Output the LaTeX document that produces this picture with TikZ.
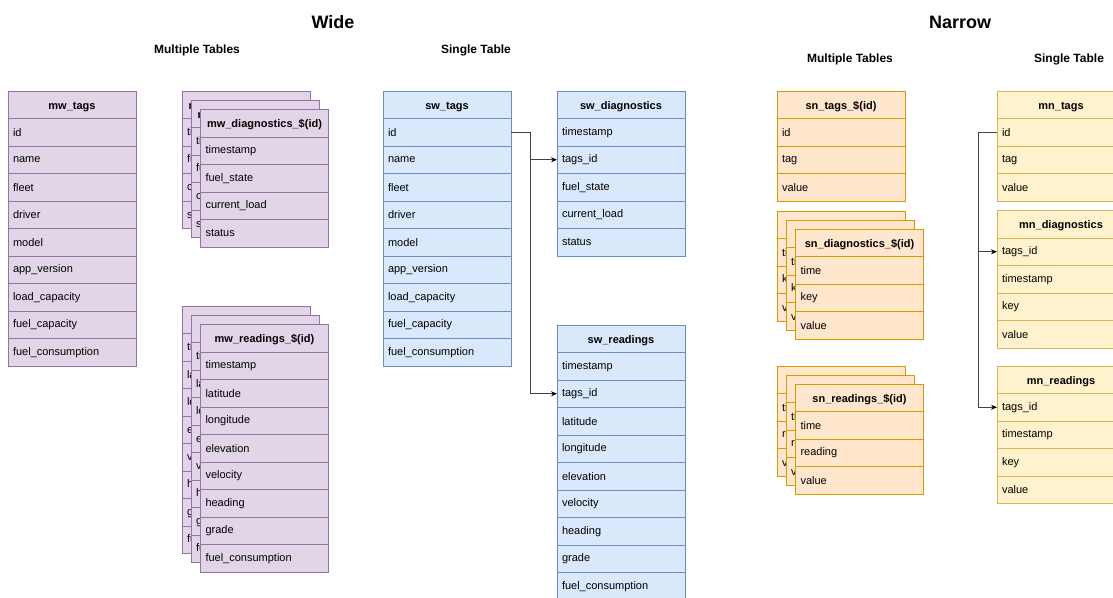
\documentclass[tikz,border=0pt]{standalone}
\usepackage{fontspec}
\setmainfont{Liberation Sans}
\usetikzlibrary{arrows.meta}
\usetikzlibrary{positioning}
\definecolor{purplefill}{HTML}{E1D5E7}
\definecolor{purpleline}{HTML}{9673A6}
\definecolor{bluefill}{HTML}{DAE8FC}
\definecolor{blueline}{HTML}{6C8EBF}
\definecolor{orangefill}{HTML}{FFE6CC}
\definecolor{orangeline}{HTML}{D79B00}
\definecolor{yellowfill}{HTML}{FFF2CC}
\definecolor{yellowline}{HTML}{D6B656}
\tikzset{
	purpletab/.style={draw=purpleline, fill=purplefill},
	bluetab/.style={draw=blueline, fill=bluefill},
	orangetab/.style={draw=orangeline, fill=orangefill},
	yellowtab/.style={draw=yellowline, fill=yellowfill},
	header/.style={font=\fontsize{11}{13}\selectfont\bfseries, text width=118pt, align=center,
		text height=8.5pt, text depth=0pt,
		minimum height=27.5pt, inner xsep=5pt, inner ysep=0pt, outer sep=0pt, line width=0.8pt},
	field/.style={font=\fontsize{11}{13}\selectfont, text width=118pt, align=left,
		minimum height=27.5pt, inner xsep=5pt, inner ysep=0pt, outer sep=0pt, line width=0.8pt},
	title/.style={font=\fontsize{18}{20}\selectfont\bfseries},
	subtitle/.style={font=\fontsize{12}{14}\selectfont\bfseries},
	link/.style={draw=black!75, line width=0.8pt, -{Stealth[length=6pt,width=5pt,black]}},
}
% table: name, top left corner, colour style, title, fields
\newcommand{\dbtable}[5]{%
	\node[#3, header, anchor=north west] (#1-0) at (#2) {#4};
	\foreach \f [count=\i, remember=\i as \j (initially 0)] in {#5}
		\node[#3, field, below=0pt of #1-\j] (#1-\i) {\f};
}

\begin{document}
\begin{tikzpicture}[x=1pt, y=-1pt]
		\useasboundingbox (0,0) rectangle (1113,597);
		\clip (0,0) rectangle (1113,597);
		% Headings
		\node[title] (wide) at (333,22) {Wide};
		\node[title] (narrow) at (960,22) {Narrow};
		\node[subtitle] (wmulti) at (197,50) {Multiple Tables};
		\node[subtitle] (wsingle) at (476,50) {Single Table};
		\node[subtitle] (nmulti) at (850,59) {Multiple Tables};
		\node[subtitle] (nsingle) at (1069,59) {Single Table};
		% Wide, multiple tables
		\dbtable{mwtags}{8,91}{purpletab}{mw\_tags}{id,name,fleet,driver,model,app\_version,load\_capacity,fuel\_capacity,fuel\_consumption}
		\dbtable{mwdiagc}{182,91}{purpletab}{mw\_diagnostics\_\$(id)}{timestamp,fuel\_state,current\_load,status}
		\dbtable{mwdiagb}{191,100}{purpletab}{mw\_diagnostics\_\$(id)}{timestamp,fuel\_state,current\_load,status}
		\dbtable{mwdiag}{200.5,109.5}{purpletab}{mw\_diagnostics\_\$(id)}{timestamp,fuel\_state,current\_load,status}
		\dbtable{mwreadc}{182,306}{purpletab}{mw\_readings\_\$(id)}{timestamp,latitude,longitude,elevation,velocity,heading,grade,fuel\_consumption}
		\dbtable{mwreadb}{191,315}{purpletab}{mw\_readings\_\$(id)}{timestamp,latitude,longitude,elevation,velocity,heading,grade,fuel\_consumption}
		\dbtable{mwread}{200.5,324.5}{purpletab}{mw\_readings\_\$(id)}{timestamp,latitude,longitude,elevation,velocity,heading,grade,fuel\_consumption}
		% Wide, single table
		\dbtable{swtags}{383,91}{bluetab}{sw\_tags}{id,name,fleet,driver,model,app\_version,load\_capacity,fuel\_capacity,fuel\_consumption}
		\dbtable{swdiag}{557,91}{bluetab}{sw\_diagnostics}{timestamp,tags\_id,fuel\_state,current\_load,status}
		\dbtable{swread}{557,325}{bluetab}{sw\_readings}{timestamp,tags\_id,latitude,longitude,elevation,velocity,heading,grade,fuel\_consumption}
		\draw[link] (swtags-1.east) -- ++(19,0) |- (swdiag-2.west);
		\draw[link] (swtags-1.east) -- ++(19,0) |- (swread-2.west);
		% Narrow, multiple tables
		\dbtable{sntags}{777,91}{orangetab}{sn\_tags\_\$(id)}{id,tag,value}
		\dbtable{sndiagc}{777,211}{orangetab}{sn\_diagnostics\_\$(id)}{time,key,value}
		\dbtable{sndiagb}{786,220}{orangetab}{sn\_diagnostics\_\$(id)}{time,key,value}
		\dbtable{sndiag}{795.5,229}{orangetab}{sn\_diagnostics\_\$(id)}{time,key,value}
		\dbtable{snreadc}{777,366}{orangetab}{sn\_readings\_\$(id)}{time,reading,value}
		\dbtable{snreadb}{786,375}{orangetab}{sn\_readings\_\$(id)}{time,reading,value}
		\dbtable{snread}{795.5,384}{orangetab}{sn\_readings\_\$(id)}{time,reading,value}
		% Narrow, single table
		\dbtable{mntags}{997,91}{yellowtab}{mn\_tags}{id,tag,value}
		\dbtable{mndiag}{997,210.5}{yellowtab}{mn\_diagnostics}{tags\_id,timestamp,key,value}
		\dbtable{mnread}{997,366}{yellowtab}{mn\_readings}{tags\_id,timestamp,key,value}
		\draw[link] (mntags-1.west) -- ++(-19,0) |- (mndiag-1.west);
		\draw[link] (mntags-1.west) -- ++(-19,0) |- (mnread-1.west);
\end{tikzpicture}
\end{document}
